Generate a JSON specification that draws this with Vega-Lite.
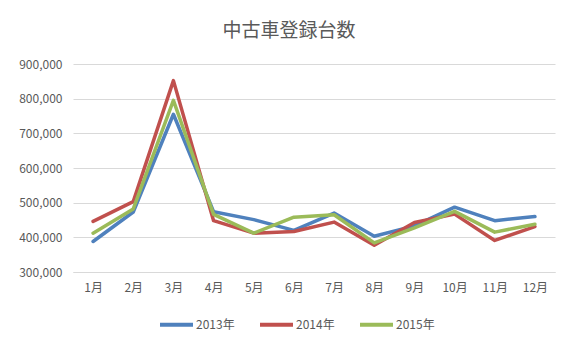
{
  "$schema": "https://vega.github.io/schema/vega-lite/v6.json",
  "autosize": "none",
  "width": 482,
  "height": 208,
  "padding": {"left": 73, "top": 64, "right": 24, "bottom": 81},
  "background": "#ffffff",
  "title": {
    "text": "中古車登録台数",
    "anchor": "middle",
    "dx": -25,
    "offset": 17,
    "fontSize": 19,
    "fontWeight": "normal",
    "color": "#595959",
    "font": "Noto Sans CJK JP"
  },
  "data": {
    "values": [
      {"month": "1月", "year": "2013年", "value": 388000},
      {"month": "2月", "year": "2013年", "value": 473000},
      {"month": "3月", "year": "2013年", "value": 755000},
      {"month": "4月", "year": "2013年", "value": 474000},
      {"month": "5月", "year": "2013年", "value": 451000},
      {"month": "6月", "year": "2013年", "value": 420000},
      {"month": "7月", "year": "2013年", "value": 470000},
      {"month": "8月", "year": "2013年", "value": 403000},
      {"month": "9月", "year": "2013年", "value": 433000},
      {"month": "10月", "year": "2013年", "value": 487000},
      {"month": "11月", "year": "2013年", "value": 448000},
      {"month": "12月", "year": "2013年", "value": 460000},
      {"month": "1月", "year": "2014年", "value": 446000},
      {"month": "2月", "year": "2014年", "value": 503000},
      {"month": "3月", "year": "2014年", "value": 852000},
      {"month": "4月", "year": "2014年", "value": 448000},
      {"month": "5月", "year": "2014年", "value": 412000},
      {"month": "6月", "year": "2014年", "value": 417000},
      {"month": "7月", "year": "2014年", "value": 444000},
      {"month": "8月", "year": "2014年", "value": 377000},
      {"month": "9月", "year": "2014年", "value": 443000},
      {"month": "10月", "year": "2014年", "value": 467000},
      {"month": "11月", "year": "2014年", "value": 391000},
      {"month": "12月", "year": "2014年", "value": 431000},
      {"month": "1月", "year": "2015年", "value": 412000},
      {"month": "2月", "year": "2015年", "value": 482000},
      {"month": "3月", "year": "2015年", "value": 795000},
      {"month": "4月", "year": "2015年", "value": 466000},
      {"month": "5月", "year": "2015年", "value": 412000},
      {"month": "6月", "year": "2015年", "value": 458000},
      {"month": "7月", "year": "2015年", "value": 465000},
      {"month": "8月", "year": "2015年", "value": 384000},
      {"month": "9月", "year": "2015年", "value": 427000},
      {"month": "10月", "year": "2015年", "value": 475000},
      {"month": "11月", "year": "2015年", "value": 415000},
      {"month": "12月", "year": "2015年", "value": 438000}
    ]
  },
  "mark": {"type": "line", "strokeWidth": 3.5, "strokeCap": "round", "strokeJoin": "round"},
  "encoding": {
    "x": {
      "field": "month",
      "type": "ordinal",
      "sort": null,
      "scale": {"type": "point", "padding": 0.5},
      "axis": {
        "title": null,
        "labelAngle": 0,
        "ticks": false,
        "domain": true,
        "domainColor": "#D9D9D9",
        "labelPadding": 10,
        "labelFontSize": 12,
        "labelColor": "#595959",
        "labelFont": "Noto Sans CJK JP",
        "grid": false
      }
    },
    "y": {
      "field": "value",
      "type": "quantitative",
      "scale": {"domain": [300000, 900000], "nice": false, "zero": false},
      "axis": {
        "title": null,
        "values": [300000, 400000, 500000, 600000, 700000, 800000, 900000],
        "format": ",d",
        "ticks": false,
        "domain": false,
        "labelPadding": 11,
        "labelFontSize": 12,
        "labelColor": "#595959",
        "labelFont": "Noto Sans CJK JP",
        "gridColor": "#D9D9D9",
        "gridWidth": 1
      }
    },
    "color": {
      "field": "year",
      "type": "nominal",
      "scale": {"domain": ["2013年", "2014年", "2015年"], "range": ["#4F81BD", "#C0504D", "#9BBB59"]},
      "legend": {
        "title": null,
        "orient": "none",
        "direction": "horizontal",
        "legendX": 85,
        "legendY": 242,
        "symbolType": "stroke",
        "symbolSize": 1089,
        "symbolStrokeWidth": 4,
        "labelFontSize": 12,
        "labelColor": "#595959",
        "labelFont": "Noto Sans CJK JP",
        "labelOffset": 1,
        "columnPadding": 17
      }
    }
  },
  "config": {
    "view": {"stroke": null}
  }
}
